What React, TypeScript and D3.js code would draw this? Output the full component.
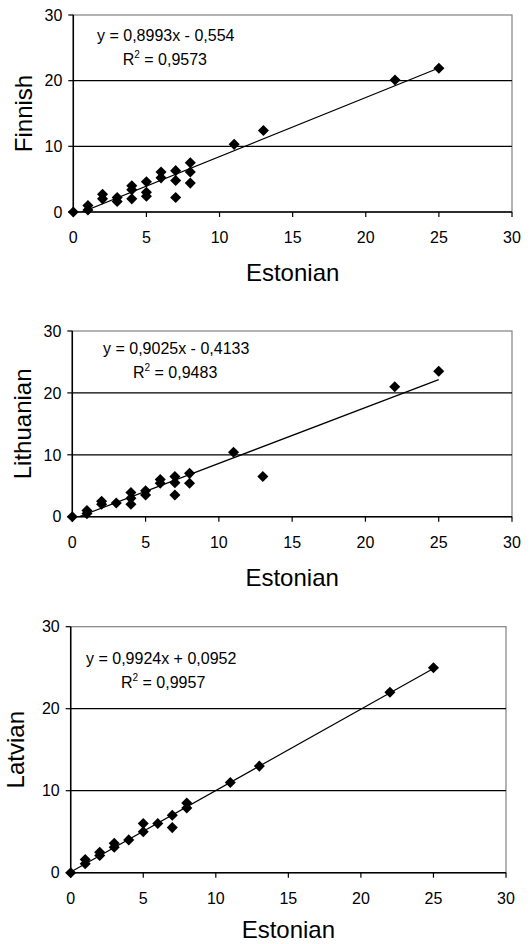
import React from "react";
import * as d3 from "d3";

// ---- Data ----
const estFin = [0, 1, 1, 2, 2, 3, 3, 4, 4, 4, 5, 5, 5, 6, 6, 7, 7, 7, 8, 8, 8, 11, 13, 22, 25];
const finnish = [0, 0.3, 1.0, 2.7, 2.0, 2.2, 1.6, 4.0, 3.4, 2.0, 4.6, 3.0, 2.4, 6.1, 5.2, 6.3, 4.8, 2.2, 7.5, 6.1, 4.4, 10.3, 12.4, 20.1, 21.9];

const estLit = [0, 1, 1, 2, 2, 3, 4, 4, 4, 5, 5, 6, 6, 7, 7, 7, 8, 8, 11, 13, 22, 25];
const lithuanian = [0, 1.0, 0.5, 2.5, 2.0, 2.2, 3.9, 3.0, 2.0, 4.2, 3.5, 6.0, 5.4, 6.5, 5.5, 3.5, 7.0, 5.4, 10.4, 6.5, 21.0, 23.5];

const estLat = [0, 1, 1, 2, 2, 3, 3, 4, 5, 5, 6, 7, 7, 8, 8, 11, 13, 22, 25];
const latvian = [0, 1.6, 1.1, 2.5, 2.1, 3.6, 3.1, 4.0, 6.0, 5.0, 6.0, 7.0, 5.5, 8.5, 7.9, 11, 13, 22, 25];

const xTicks = [0, 5, 10, 15, 20, 25, 30];
const yTicks = [0, 10, 20, 30];

const fits = [
  { slope: 0.8993, intercept: -0.554, eq: "y = 0,8993x - 0,554", r2: "0,9573" },
  { slope: 0.9025, intercept: -0.4133, eq: "y = 0,9025x - 0,4133", r2: "0,9483" },
  { slope: 0.9924, intercept: 0.0952, eq: "y = 0,9924x + 0,0952", r2: "0,9957" },
];

const panels = [
  { xs: estFin, ys: finnish, yTitle: "Finnish", fit: fits[0],
    left: 73.3, right: 512, top: 15, bottom: 212, yTitleX: 23, eqX: 97, eqY: 41, r2X: 122.7, titleOff: 69 },
  { xs: estLit, ys: lithuanian, yTitle: "Lithuanian", fit: fits[1],
    left: 72.3, right: 512, top: 331, bottom: 516.7, yTitleX: 22, eqX: 103, eqY: 354, r2X: 133, titleOff: 69 },
  { xs: estLat, ys: latvian, yTitle: "Latvian", fit: fits[2],
    left: 70.7, right: 506, top: 626.7, bottom: 872.7, yTitleX: 15, eqX: 86, eqY: 664, r2X: 121, titleOff: 65 },
];

const FONT = "'Liberation Sans', Arial, sans-serif";

function Panel({ p, idx }: { p: any; idx: number }) {
  const x = d3.scaleLinear().domain([0, 30]).range([p.left, p.right]);
  const y = d3.scaleLinear().domain([0, 30]).range([p.bottom, p.top]);
  const diamond = d3.symbol().type(d3.symbolDiamond2).size(78)();
  const xmin = d3.min(p.xs as number[]) as number;
  const xmax = d3.max(p.xs as number[]) as number;
  const trend = d3.line<number>()
    .x((d) => x(d))
    .y((d) => y(p.fit.slope * d + p.fit.intercept));
  const clipId = `clip${idx}`;
  return (
    <g>
      <defs>
        <clipPath id={clipId}>
          <rect x={p.left} y={p.top} width={p.right - p.left} height={p.bottom - p.top} />
        </clipPath>
      </defs>
      <rect x={p.left} y={p.top} width={p.right - p.left} height={p.bottom - p.top}
        fill="white" stroke="#808080" strokeWidth={1.2} />
      {yTicks.filter((t) => t > 0 && t < 30).map((t) => (
        <line key={t} x1={p.left} x2={p.right} y1={y(t)} y2={y(t)} stroke="#000" strokeWidth={1.2} />
      ))}
      <line x1={p.left} x2={p.left} y1={p.top} y2={p.bottom} stroke="#000" strokeWidth={1.5} />
      <line x1={p.left} x2={p.right} y1={p.bottom} y2={p.bottom} stroke="#000" strokeWidth={1.5} />
      {yTicks.map((t) => (
        <g key={"y" + t}>
          <line x1={p.left - 5} x2={p.left} y1={y(t)} y2={y(t)} stroke="#000" strokeWidth={1.2} />
          <text x={p.left - 11} y={y(t)} dy="0.36em" textAnchor="end" fontSize={16} fontFamily={FONT}>{t}</text>
        </g>
      ))}
      {xTicks.map((t) => (
        <g key={"x" + t}>
          <line x1={x(t)} x2={x(t)} y1={p.bottom} y2={p.bottom + 5} stroke="#000" strokeWidth={1.2} />
          <text x={x(t)} y={p.bottom + 31} textAnchor="middle" fontSize={16} fontFamily={FONT}>{t}</text>
        </g>
      ))}
      <path d={trend([xmin, xmax]) || ""} stroke="#000" strokeWidth={1.2} fill="none" clipPath={`url(#${clipId})`} />
      {(p.xs as number[]).map((xv, i) => (
        <path key={i} d={diamond || ""} transform={`translate(${x(xv)},${y(p.ys[i])})`} fill="#000" />
      ))}
      <text x={p.eqX} y={p.eqY} fontSize={16} fontFamily={FONT}>{p.fit.eq}</text>
      <text x={p.r2X} y={p.eqY + 24} fontSize={16} fontFamily={FONT}>
        R<tspan dy={-7} fontSize={10}>2</tspan><tspan dy={7}> = {p.fit.r2}</tspan>
      </text>
      <text x={(p.left + p.right) / 2} y={p.bottom + p.titleOff} textAnchor="middle" fontSize={24} fontFamily={FONT}>Estonian</text>
      <text transform={`translate(${p.yTitleX},${(p.top + p.bottom) / 2}) rotate(-90)`} textAnchor="middle"
        dominantBaseline="central" fontSize={24} fontFamily={FONT}>{p.yTitle}</text>
    </g>
  );
}

export default function App() {
  return (
    <svg width={530} height={944} style={{ position: "absolute", left: 0, top: 0, background: "white" }}>
      <rect width={530} height={944} fill="white" />
      {panels.map((p, i) => <Panel key={i} p={p} idx={i} />)}
    </svg>
  );
}
